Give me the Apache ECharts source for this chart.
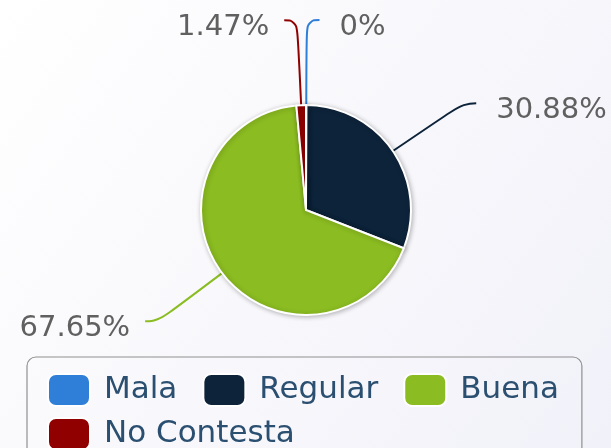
<!DOCTYPE html>
<html>
<head>
<meta charset="utf-8">
<script src="https://cdn.jsdelivr.net/npm/echarts@6/dist/echarts.min.js"></script>
<style>
html,body{margin:0;padding:0;background:#fff;}
#chart{width:611px;height:448px;}
</style>
</head>
<body>
<div id="chart"></div>
<script>
const categories = ['Mala', 'Regular', 'Buena', 'No Contesta'];
const percentValues = [0, 30.88, 67.65, 1.47];
const sliceColors = ['#2f7ed8', '#0d233a', '#8bbc21', '#910000'];
const labelGaps = [20, 20, 15, 15];
const lineLengths = [85, 85, 80, 85];

const chart = echarts.init(document.getElementById('chart'), null, {renderer: 'canvas'});
const pieData = categories.map((name, i) => ({
  name: name,
  value: percentValues[i],
  itemStyle: {color: sliceColors[i]},
  label: {distanceToLabelLine: labelGaps[i]},
  labelLine: {length: lineLengths[i], lineStyle: {color: sliceColors[i]}}
}));

chart.setOption({
  backgroundColor: {
    type: 'linear', x: 0, y: 0, x2: 1, y2: 1,
    colorStops: [{offset: 0, color: '#ffffff'}, {offset: 1, color: '#f1f1f9'}]
  },
  animation: false,
  legend: {
    data: categories,
    left: 27,
    top: 357,
    width: 570,
    orient: 'horizontal',
    itemWidth: 42,
    itemHeight: 32,
    itemGap: 10,
    icon: 'roundRect',
    padding: [16, 8, 17, 20],
    borderColor: '#909090',
    borderWidth: 1.2,
    borderRadius: 9,
    textStyle: {
      fontFamily: 'DejaVu Sans',
      fontSize: 31,
      color: '#2b4f70',
      lineHeight: 33,
      padding: [0, 15, 0, 9]
    }
  },
  series: [{
    type: 'pie',
    left: 0, top: 0, width: 720, height: 448,
    center: [306, 210],
    radius: [0, 105],
    startAngle: 90,
    clockwise: true,
    minAngle: 0.3,
    avoidLabelOverlap: false,
    data: pieData,
    itemStyle: {
      borderColor: '#ffffff',
      borderWidth: 2,
      shadowBlur: 5,
      shadowOffsetX: 1,
      shadowOffsetY: 1,
      shadowColor: 'rgba(0,0,0,0.25)'
    },
    label: {
      show: true,
      position: 'outside',
      formatter: p => '{t|' + percentValues[p.dataIndex] + '%}',
      rich: {
        t: {
          fontFamily: 'DejaVu Sans',
          fontSize: 29,
          color: '#606060',
          padding: [15, 0, 0, 0]
        }
      }
    },
    labelLine: {
      show: true,
      length: 85,
      length2: 13,
      smooth: 0.5,
      lineStyle: {width: 2}
    },
    emphasis: {disabled: true}
  }]
});
</script>
</body>
</html>
